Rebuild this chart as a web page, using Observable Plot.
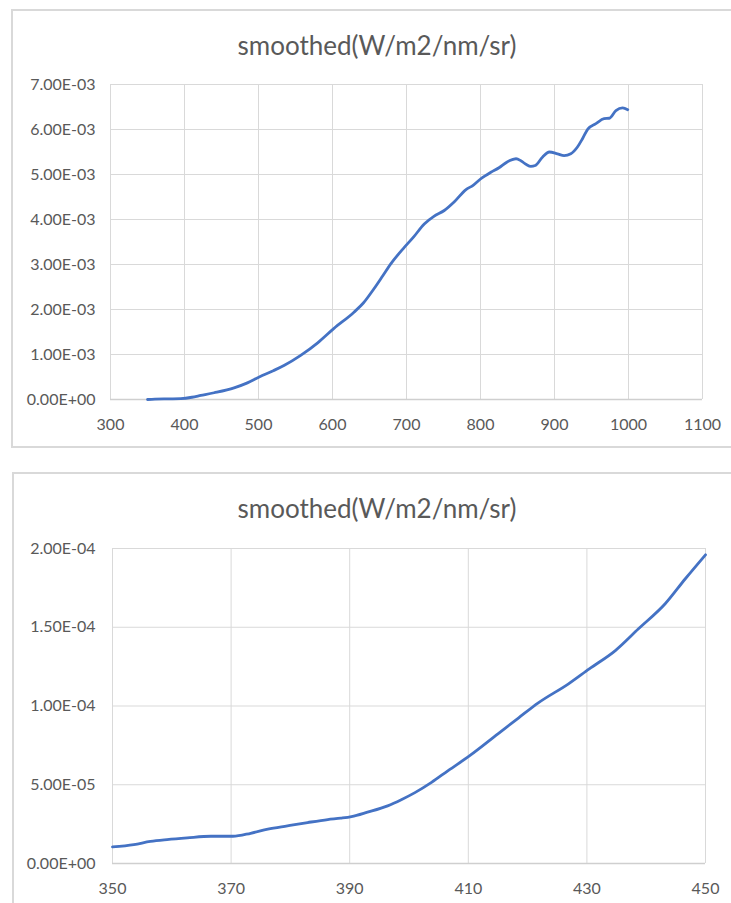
<!DOCTYPE html>
<html>
<head>
<meta charset="utf-8">
<script src="https://cdn.jsdelivr.net/npm/d3@7"></script>
<script src="https://cdn.jsdelivr.net/npm/@observablehq/plot@0.6"></script>
<style>
html, body { margin:0; padding:0; background:#fff; width:731px; height:903px; overflow:hidden; font-family: Lato, "Noto Sans", sans-serif; }
#root { position:relative; width:731px; height:903px; overflow:hidden; }
.box { position:absolute; border:2px solid #d9d9d9; box-sizing:border-box; background:#fff; }
.title { position:absolute; left:0; width:754px; text-align:center; color:#595959; font-size:26px; line-height:30px; font-family: Lato, sans-serif; }
.chart { position:absolute; left:0; }
</style>
</head>
<body>
<div id="root">
  <div class="box" style="left:11px; top:9px; width:745px; height:439px;"></div>
  <div class="box" style="left:12px; top:472px; width:745px; height:450px;"></div>
  <div class="title" id="t1" style="top:30px;"></div>
  <div class="title" id="t2" style="top:493px;"></div>
  <div class="chart" id="c1" style="top:60px;"></div>
  <div class="chart" id="c2" style="top:530px;"></div>
</div>
<script>
// ---- data ----
const chartTitle = "smoothed(W/m2/nm/sr)";

// Top chart: full spectrum
const topWavelength = [350,360,380,395,410,422,440,467,485,501,520,535,557,580,602,629,642,656,668,679,697,710,724,737,751,765,780,790,800,814,825,836,848,855,862,868,874,884,893,904,913,922,931,938,945,956,967,974,983,992,999];
const topRadiance = [0.0e-3,0.01e-3,0.015e-3,0.02e-3,0.05e-3,0.09e-3,0.15e-3,0.26e-3,0.37e-3,0.50e-3,0.64e-3,0.76e-3,0.98e-3,1.26e-3,1.58e-3,1.94e-3,2.15e-3,2.46e-3,2.75e-3,3.02e-3,3.38e-3,3.62e-3,3.90e-3,4.07e-3,4.20e-3,4.40e-3,4.66e-3,4.76e-3,4.90e-3,5.05e-3,5.15e-3,5.28e-3,5.35e-3,5.30e-3,5.22e-3,5.18e-3,5.20e-3,5.39e-3,5.50e-3,5.46e-3,5.42e-3,5.46e-3,5.61e-3,5.80e-3,6.01e-3,6.13e-3,6.24e-3,6.25e-3,6.42e-3,6.48e-3,6.44e-3];
const topXTicks = [300,400,500,600,700,800,900,1000,1100];
const topYTicks = [0,1e-3,2e-3,3e-3,4e-3,5e-3,6e-3,7e-3];

// Bottom chart: 350-450 nm detail
const bottomWavelength = [350,353.6,356.4,359.2,362.6,366.6,370.3,373.3,376.2,379.5,382.9,386.3,388.5,390.3,393,396.4,398.7,401,403.8,406.6,410.3,415,418.5,421.8,426.9,430.4,434.8,438.7,443.2,446.6,450];
const bottomRadiance = [1.05e-5,1.2e-5,1.4e-5,1.52e-5,1.63e-5,1.73e-5,1.73e-5,1.92e-5,2.18e-5,2.39e-5,2.60e-5,2.79e-5,2.88e-5,2.98e-5,3.26e-5,3.66e-5,4.05e-5,4.50e-5,5.15e-5,5.90e-5,6.86e-5,8.23e-5,9.25e-5,10.2e-5,11.41e-5,12.36e-5,13.52e-5,14.90e-5,16.49e-5,18.08e-5,19.6e-5];
const bottomXTicks = [350,370,390,410,430,450];
const bottomYTicks = [0,5e-5,1e-4,1.5e-4,2e-4];

// ---- helpers ----
function sci(d) {
  if (d === 0) return "0.00E+00";
  const e = Math.floor(Math.log10(Math.abs(d)) + 1e-9);
  const m = d / Math.pow(10, e);
  return m.toFixed(2) + "E" + (e < 0 ? "-" : "+") + String(Math.abs(e)).padStart(2, "0");
}

const lineColor = "#4472c4";
const gridColor = "#d9d9d9";
const textColor = "#595959";

function makeChart({xs, ys, xTicks, yTicks, xDomain, yDomain, height, mt, mb, ml, mr, yPad}) {
  const data = xs.map((x, i) => ({nm: x, v: ys[i]}));
  return Plot.plot({
    width: 731,
    height,
    marginTop: mt, marginBottom: mb, marginLeft: ml, marginRight: mr,
    style: {fontFamily: "Lato, sans-serif", fontSize: "16px", color: textColor, background: "transparent", overflow: "visible"},
    x: {domain: xDomain, label: null},
    y: {domain: yDomain, label: null},
    marks: [
      Plot.gridX(xTicks, {stroke: gridColor, strokeOpacity: 1, strokeWidth: 1}),
      Plot.gridY(yTicks, {stroke: gridColor, strokeOpacity: 1, strokeWidth: 1}),
      Plot.ruleY([0], {stroke: "#cfcfcf", strokeWidth: 1.3}),
      Plot.axisX(xTicks, {tickSize: 0, tickPadding: 19, tickFormat: d => String(d), fill: textColor, label: null}),
      Plot.axisY(yTicks, {tickSize: 0, tickPadding: yPad, tickFormat: sci, fill: textColor, label: null}),
      Plot.line(data, {x: "nm", y: "v", stroke: lineColor, strokeWidth: 2.8, curve: "monotone-x"})
    ]
  });
}

document.getElementById("t1").textContent = chartTitle;
document.getElementById("t2").textContent = chartTitle;

document.getElementById("c1").appendChild(makeChart({
  xs: topWavelength, ys: topRadiance, xTicks: topXTicks, yTicks: topYTicks,
  xDomain: [300, 1100], yDomain: [0, 7e-3],
  height: 390, mt: 24, mb: 51, ml: 110, mr: 29, yPad: 15
}));

document.getElementById("c2").appendChild(makeChart({
  xs: bottomWavelength, ys: bottomRadiance, xTicks: bottomXTicks, yTicks: bottomYTicks,
  xDomain: [350, 450], yDomain: [0, 2e-4],
  height: 373, mt: 18, mb: 40, ml: 112, mr: 26, yPad: 17
}));
</script>
</body>
</html>
